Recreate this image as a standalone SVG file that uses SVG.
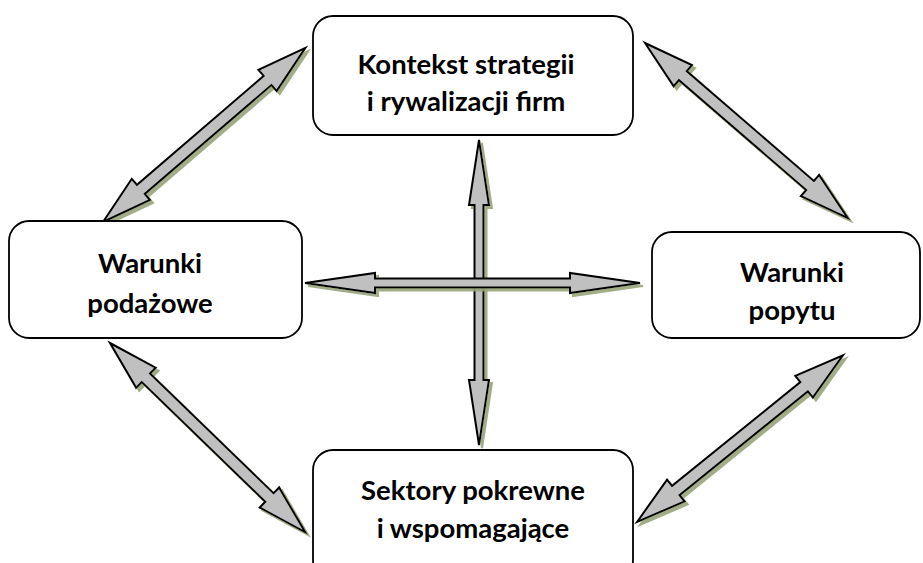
<svg xmlns="http://www.w3.org/2000/svg" width="923" height="563" viewBox="0 0 923 563">
<style>
.box{fill:#ffffff;stroke:#000000;stroke-width:1.8}
.lbl{font-family:Lato,"Liberation Sans",sans-serif;font-weight:bold;font-size:27.5px;fill:#000000;text-anchor:middle}
.arr{fill:#c0c0c0;stroke:#000000;stroke-width:2;stroke-linejoin:miter}
</style>
<defs>
<filter id="sh" x="-20%" y="-20%" width="140%" height="140%">
<feDropShadow dx="3" dy="3" stdDeviation="0.6" flood-color="#98a47a" flood-opacity="0.9"/>
</filter>
</defs>
<rect width="923" height="563" fill="#ffffff"/>
<g id="connectors">
<g filter="url(#sh)"><path class="arr" transform="translate(103,222) rotate(-40.7)" d="M0,0 L50,-14 L50,-6 L217,-6 L217,-14 L267,0 L217,14 L217,6 L50,6 L50,14 Z"/></g>
<g filter="url(#sh)"><path class="arr" transform="translate(645,43) rotate(40.8)" d="M0,0 L50,-14 L50,-6 L218,-6 L218,-14 L268,0 L218,14 L218,6 L50,6 L50,14 Z"/></g>
<g filter="url(#sh)"><path class="arr" transform="translate(110,343) rotate(44.1)" d="M0,0 L50,-14 L50,-6 L222,-6 L222,-14 L272,0 L222,14 L222,6 L50,6 L50,14 Z"/></g>
<g filter="url(#sh)"><path class="arr" transform="translate(637,522) rotate(-39)" d="M0,0 L50,-14 L50,-6 L215,-6 L215,-14 L265,0 L215,14 L215,6 L50,6 L50,14 Z"/></g>
<g filter="url(#sh)"><path class="arr" transform="translate(479,140) rotate(90)" d="M0,0 L65,-10 L65,-4.5 L240,-4.5 L240,-10 L305,0 L240,10 L240,4.5 L65,4.5 L65,10 Z"/></g>
<g filter="url(#sh)"><path class="arr" transform="translate(305,283)" d="M0,0 L70,-10 L70,-4.5 L265,-4.5 L265,-10 L335,0 L265,10 L265,4.5 L70,4.5 L70,10 Z"/></g>
</g>
<g id="node-top">
<rect class="box" x="313" y="16" width="320" height="119" rx="20"/>
<text class="lbl" x="466" y="74">Kontekst strategii</text>
<text class="lbl" x="466" y="111">i rywalizacji firm</text>
</g>
<g id="node-left">
<rect class="box" x="9" y="221" width="293" height="117" rx="20"/>
<text class="lbl" x="150" y="273">Warunki</text>
<text class="lbl" x="150" y="313">podażowe</text>
</g>
<g id="node-right">
<rect class="box" x="652" y="232" width="268" height="106" rx="20"/>
<text class="lbl" x="792" y="282">Warunki</text>
<text class="lbl" x="792" y="320">popytu</text>
</g>
<g id="node-bottom">
<rect class="box" x="313" y="450" width="320" height="130" rx="20"/>
<text class="lbl" x="473" y="500">Sektory pokrewne</text>
<text class="lbl" x="473" y="538">i wspomagające</text>
</g>
</svg>
